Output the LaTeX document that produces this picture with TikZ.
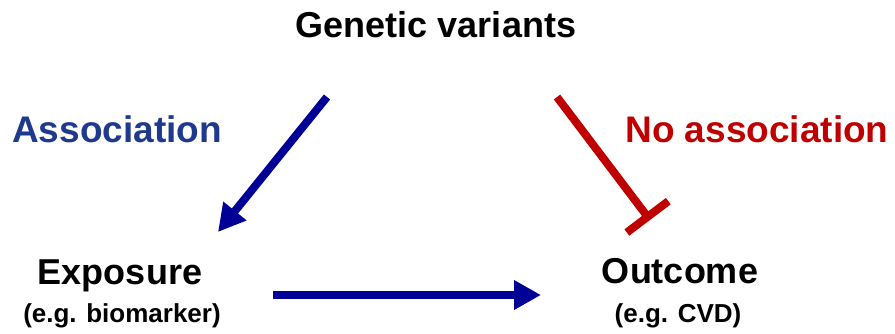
\documentclass[tikz,border=0pt]{standalone}
\usepackage{fontspec}
\setmainfont{Liberation Sans}
\usetikzlibrary{positioning}
\usetikzlibrary{arrows.meta}
\definecolor{darkblue}{RGB}{0,0,150}
\definecolor{textblue}{RGB}{31,58,140}
\definecolor{darkred}{RGB}{192,0,0}
\tikzset{
    mynode/.style = {inner sep=0pt, anchor=base, font=\bfseries\fontsize{36}{40}\selectfont, text=black},
    mynodeb/.style = {mynode, text=textblue, font=\bfseries\fontsize{37}{40}\selectfont},
    mynoder/.style = {mynode, text=darkred, font=\bfseries\fontsize{37}{40}\selectfont},
    mynodes/.style = {inner sep=0pt, anchor=base, font=\bfseries\fontsize{26}{30}\selectfont, text=black},
    edgeb/.style = {-{Triangle[width=28pt,length=27pt]}, line width=8pt, darkblue},
    edger/.style = {-{Bar[width=52pt]}, line width=8pt, darkred},
}

\begin{document}
\begin{tikzpicture}[x=1pt, y=-1pt]
  \useasboundingbox (0,0) rectangle (895,333);
  % labels
  \node[mynode] (gen) at (436,37) {Genetic variants};
  \node[mynodeb] (assoc) at (117,142) {Association};
  \node[mynoder] (noassoc) at (757,142) {No association};
  \node[mynode] (expo) at (120,284) {Exposure};
  \node[mynodes] (expoeg) at (122,322) {(e.g. biomarker)};
  \node[mynode] (out) at (680,283) {Outcome};
  \node[mynodes] (outeg) at (678,322) {(e.g. CVD)};
  % arrow ends
  \coordinate (gl) at (327,97);
  \coordinate (el) at (218,232);
  \coordinate (gr) at (557,97);
  \coordinate (or) at (650,220);
  \coordinate (eo) at (273,295);
  \coordinate (oe) at (541,295);
  \draw[edgeb] (gl) -- (el);
  \draw[edger] (gr) -- (or);
  \draw[edgeb] (eo) -- (oe);
\end{tikzpicture}
\end{document}
